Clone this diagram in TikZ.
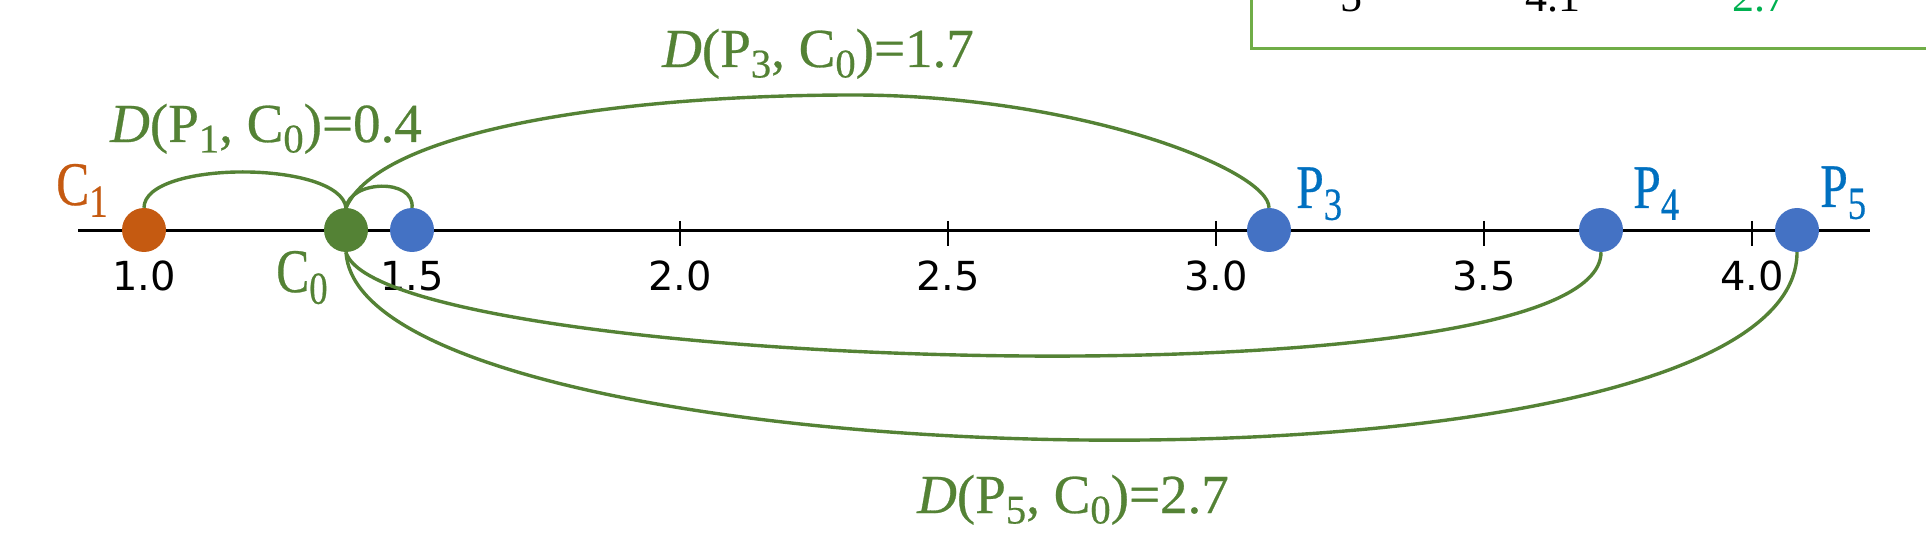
\documentclass[tikz,border=0pt]{standalone}
\usepackage{fontspec}
\setmainfont{Liberation Serif}
\newfontfamily\labfont[FakeBold=0.5]{Liberation Serif}
\newfontfamily\tickfont{DejaVu Sans}
\definecolor{cgreen}{HTML}{548235}
\definecolor{corange}{HTML}{C55A11}
\definecolor{cblue}{HTML}{4472C4}
\definecolor{plabel}{HTML}{0070C0}
\definecolor{tborder}{HTML}{70AD47}
\definecolor{tgreen}{HTML}{00B050}
\newcommand{\mysub}[1]{\raisebox{-0.19em}{\scalebox{0.74}{#1}}}
\newcommand{\dlab}[2]{\labfont\fontsize{55}{60}\selectfont\itshape D\upshape(P\mysub{#1}, C\mysub{0})=#2}
\newcommand{\plab}[2]{\labfont\fontsize{62}{70}\selectfont\scalebox{0.8}[1]{#1\mysub{#2}}}
\begin{document}
\begin{tikzpicture}[x=1pt,y=-1pt,
  dot/.style={circle,inner sep=0pt,minimum size=44pt},
  link/.style={draw=cgreen,line width=3.4pt},
  ticklab/.style={anchor=base,inner sep=0pt,font=\tickfont\fontsize{40}{44}\selectfont},
  lab/.style={anchor=base west,inner sep=0pt},
  tick/.style={line width=2pt,black},
  tabtext/.style={anchor=base,inner sep=0pt,font=\fontsize{44}{48}\selectfont}]
\useasboundingbox (0,0) rectangle (1926,534);
\clip (0,0) rectangle (1926,534);
% table fragment
\draw[tborder,line width=3pt] (1251,-20) rectangle (1990,49);
\node[tabtext] (t1) at (1351,12) {5};
\node[tabtext] (t2) at (1553,12) {4.1};
\node[tabtext,text=tgreen] (t3) at (1760,12) {2.7};
% axis
\foreach \x in {144,412,680,948,1216,1484,1752} \draw[tick] (\x,221) -- (\x,246);
\coordinate (axL) at (78,231);
\coordinate (axR) at (1870,231);
\draw[line width=3pt] (axL) -- (axR);
\node[ticklab] (l10) at (144,291) {1.0};
\node[ticklab] (l15) at (412,291) {1.5};
\node[ticklab] (l20) at (680,291) {2.0};
\node[ticklab] (l25) at (948,291) {2.5};
\node[ticklab] (l30) at (1216,291) {3.0};
\node[ticklab] (l35) at (1484,291) {3.5};
\node[ticklab] (l40) at (1752,291) {4.0};
% dots
\node[dot,fill=corange] (c1) at (144,230) {};
\node[dot,fill=cgreen] (c0) at (346,230) {};
\node[dot,fill=cblue] (p1) at (412,230) {};
\node[dot,fill=cblue] (p3) at (1269,230) {};
\node[dot,fill=cblue] (p4) at (1601,230) {};
\node[dot,fill=cblue] (p5) at (1797,230) {};
% labels
\node[lab,text=corange] (lc1) at (56,205) {\plab{C}{1}};
\node[lab,text=cgreen] (lc0) at (276,292) {\plab{C}{0}};
\node[lab,text=plabel] (lp3) at (1296,208) {\plab{P}{3}};
\node[lab,text=plabel] (lp4) at (1633,208) {\plab{P}{4}};
\node[lab,text=plabel] (lp5) at (1820,207) {\plab{P}{5}};
\node[lab,text=cgreen] (d1) at (110,142) {\dlab{1}{0.4}};
\node[lab,text=cgreen] (d3) at (662,67) {\dlab{3}{1.7}};
\node[lab,text=cgreen] (d5) at (917,513) {\dlab{5}{2.7}};
% connectors
\draw[link] (c1.north) .. controls (144,160) and (340,160) .. (c0.north);
\draw[link] (c0.north) .. controls (350,180) and (415,178) .. (p1.north);
\draw[link] (c0.north) .. controls (380,130) and (620,95) .. (853,95)
  .. controls (1080,95) and (1269,170) .. (p3.north);
\draw[link] (c0.south) .. controls (380,370) and (1601,410) .. (p4.south);
\draw[link] (c0.south) .. controls (360,485) and (1797,520) .. (p5.south);
\end{tikzpicture}
\end{document}
